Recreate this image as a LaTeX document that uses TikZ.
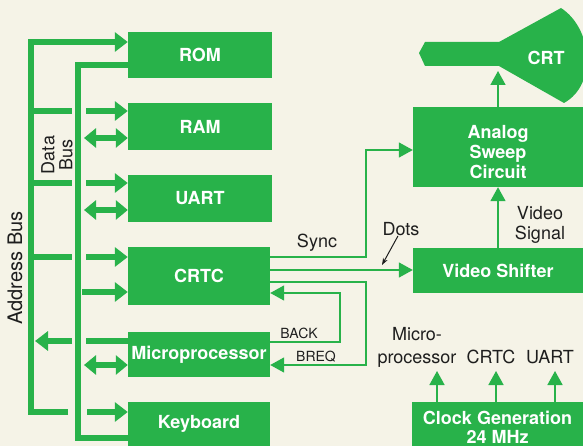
\documentclass[tikz,border=0pt]{standalone}
\usepackage{fontspec}
\setmainfont{TeX Gyre Heros}
\usetikzlibrary{arrows.meta}
\definecolor{G}{RGB}{40,178,74}
\definecolor{bg}{RGB}{245,243,231}
\definecolor{K}{RGB}{30,30,30}
\begin{document}
\begin{tikzpicture}[x=1pt,y=-1pt,
 box/.style={fill=G,text=white,font=\bfseries\fontsize{18}{20}\selectfont,inner sep=0pt,align=center},
 boxtext/.style={text=white,font=\bfseries\fontsize{18}{20}\selectfont,inner sep=0pt,align=center},
 lbl/.style={text=K,font=\fontsize{18}{21}\selectfont,inner sep=0pt},
 slbl/.style={text=K,font=\fontsize{14}{16}\selectfont,inner sep=0pt},
 bus/.style={draw=G,line width=6.5pt,line join=miter},
 busarr/.style={bus,-{Triangle[length=13pt,width=19pt]}},
 busdbl/.style={bus,{Triangle[length=12pt,width=19pt]}-{Triangle[length=12pt,width=19pt]}},
 wire/.style={draw=G,line width=1.6pt},
 wirearr/.style={wire,-{Triangle[length=14pt,width=15pt]}},
]
\fill[bg] (0,0) rectangle (583,446);
\clip (0,0) rectangle (583,446);
\useasboundingbox (0,0) rectangle (583,446);

% boxes
\node[box,minimum width=144pt,minimum height=46pt] (rom) at (200,55) {ROM};
\node[box,minimum width=144pt,minimum height=47pt] (ram) at (200,126.5) {RAM};
\node[box,minimum width=144pt,minimum height=47pt] (uart) at (200,198.5) {UART};
\node[box,minimum width=142pt,minimum height=58pt] (crtc) at (199,276) {CRTC};
\node[box,minimum width=142pt,minimum height=45pt] (micro) at (199,354.5) {Microprocessor};
\node[box,minimum width=142pt,minimum height=44pt] (kbd) at (199,424) {Keyboard};
\node[box,minimum width=170pt,minimum height=80pt] (sweep) at (498,147) {};
\node[boxtext] (sweeptxt) at (498,152) {Analog\\Sweep\\Circuit};
\node[box,minimum width=170pt,minimum height=45pt] (shifter) at (498,270.5) {Video Shifter};
\node[box,minimum width=171pt,minimum height=44pt] (clock) at (497.5,424) {};
\node[boxtext,font=\bfseries\fontsize{18}{19}\selectfont] (clocktxt) at (497.5,427) {Clock Generation\\24 MHz};

% CRT
\fill[G] (419,53) -- (425,42) -- (499,42) -- (561,8)
  .. controls (592,28) and (598,84) .. (564,103) -- (499,66) -- (425,66) -- cycle;
\node[boxtext] (crt) at (546,58) {CRT};
\coordinate (crtin) at (498,71);

% address bus
\draw[busarr] (68,412) -- (31,412) -- (31,42) -- (rom.west |- 0,42);
\draw[bus] (31,111) -- (72,111);
\draw[busarr] (86,111) -- (ram.west |- 0,111);
\draw[bus] (31,183) -- (72,183);
\draw[busarr] (86,183) -- (uart.west |- 0,183);
\draw[bus] (31,257) -- (72,257);
\draw[busarr] (86,257) -- (crtc.west |- 0,257);
\draw[bus] (micro.west |- 0,341) -- (86,341);
\draw[busarr] (72,341) -- (35,341);
\draw[busarr] (87,412) -- (kbd.west |- 0,412);

% data bus
\draw[bus] (rom.west |- 0,65) -- (78,65) -- (78,438) -- (kbd.west |- 0,438);
\draw[busdbl] (84,138) -- (ram.west |- 0,138);
\draw[busdbl] (84,210) -- (uart.west |- 0,210);
\draw[busarr] (82,292) -- (crtc.west |- 0,292);
\draw[busdbl] (84,365) -- (micro.west |- 0,365);

% bus labels
\node[lbl,rotate=90,font=\fontsize{20}{22}\selectfont] (abus) at (15,268) {Address Bus};
\node[lbl,rotate=90,align=center,font=\fontsize{18}{18}\selectfont] (dbus) at (57,155) {Data\\Bus};

% right side wires
\draw[wirearr] (crtc.east |- 0,257) -- (366,257) -- (366,150) -- (sweep.west |- 0,150);
\draw[wirearr] (crtc.east |- 0,270) -- (shifter.west |- 0,270);
\draw[wirearr] (crtc.east |- 0,282) -- (366,282) -- (366,365) -- (micro.east |- 0,365);
\draw[wirearr] (micro.east |- 0,342) -- (340,342) -- (340,293) -- (crtc.east |- 0,293);
\draw[wirearr] (shifter.north) -- (sweep.south);
\draw[wirearr] (sweep.north) -- (crtin);

\node[lbl] (sync) at (317,243) {Sync};
\node[lbl] (dots) at (401,229) {Dots};
\coordinate (dotstip) at (382,265);
\draw[K,line width=1pt,-{Stealth[length=7pt,width=5pt]}] ([xshift=-3pt]dots.south) -- (dotstip);
\node[slbl] (back) at (299,333) {BACK};
\node[slbl] (breq) at (316,357) {BREQ};
\node[lbl,align=center,font=\fontsize{18}{20}\selectfont] (vsig) at (540,225) {Video\\Signal};

% clock outputs
\node[lbl,anchor=base] (lmicro) at (417,340) {Micro-};
\node[lbl,anchor=base] (lproc) at (417,363) {processor};
\node[lbl,anchor=base] (lcrtc) at (491,363) {CRTC};
\node[lbl,anchor=base] (luart) at (550,363) {UART};
\coordinate (c1) at (437,371);
\coordinate (c2) at (496,371);
\coordinate (c3) at (555,371);
\draw[wirearr] (clock.north -| c1) -- (c1);
\draw[wirearr] (clock.north -| c2) -- (c2);
\draw[wirearr] (clock.north -| c3) -- (c3);
\end{tikzpicture}
\end{document}
